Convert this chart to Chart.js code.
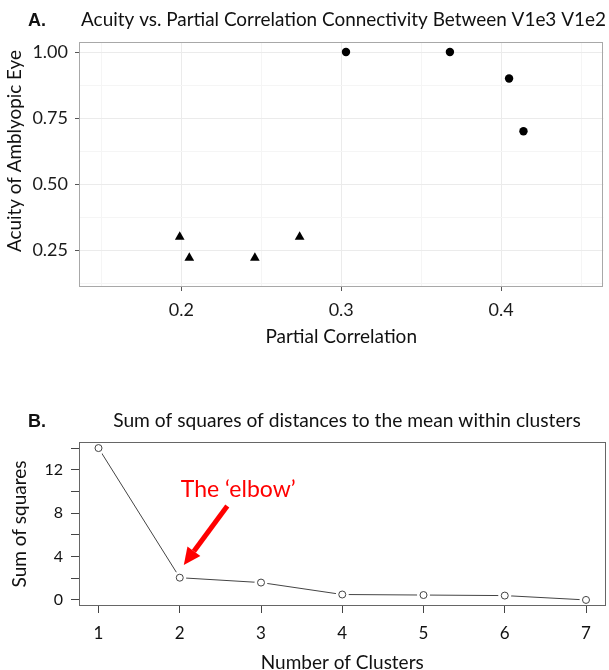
<!DOCTYPE html>
<html>
<head>
<meta charset="utf-8">
<script src="https://cdn.jsdelivr.net/npm/chart.js@4.4.1/dist/chart.umd.min.js"></script>
<style>
  html, body { margin: 0; padding: 0; background: #fff; }
  body { width: 609px; height: 670px; position: relative; overflow: hidden; }
  .panel { position: absolute; left: 0; }
  #boxA { top: 0; width: 609px; height: 360px; }
  #boxB { top: 380px; width: 612px; height: 300px; }
</style>
</head>
<body>
<div class="panel" id="boxA"><canvas id="chartA"></canvas></div>
<div class="panel" id="boxB"><canvas id="chartB"></canvas></div>
<script>
// Panel A: acuity vs partial correlation
const circleX = [0.303, 0.368, 0.405, 0.414];
const circleY = [1.00, 1.00, 0.90, 0.70];
const triangleX = [0.199, 0.205, 0.246, 0.274];
const triangleY = [0.30, 0.22, 0.22, 0.30];
const xTicksA = [0.2, 0.3, 0.4];
const xMinorA = [0.15, 0.25, 0.35, 0.45];
const yTicksA = [0.25, 0.50, 0.75, 1.00];
const yMinorA = [0.125, 0.375, 0.625, 0.875];

// Panel B: elbow plot
const clusters = [1, 2, 3, 4, 5, 6, 7];
const sumSquares = [14.0, 2.05, 1.6, 0.5, 0.45, 0.4, 0.0];
const yTicksB = [0, 2, 4, 6, 8, 10, 12, 14];
const yLabelsB = [0, 4, 8, 12];

Chart.defaults.font.family = "Lato, 'Noto Sans', sans-serif";
Chart.defaults.color = "#111";

const toPoints = (xs, ys) => xs.map((x, i) => ({ x: x, y: ys[i] }));

// shrink/grow a font so the text spans a given width
function fitFont(ctx, text, width, weight, family) {
    ctx.font = `${weight} 20px ${family}`;
    const size = 20 * width / ctx.measureText(text).width;
    return `${weight} ${size.toFixed(2)}px ${family}`;
}

// panel letter, title and (optionally) a free y title
const panelText = {
    id: "panelText",
    afterDraw(chart, args, opts) {
        const ctx = chart.ctx;
        ctx.save();
        ctx.fillStyle = "#111";
        ctx.textBaseline = "alphabetic";
        ctx.textAlign = "left";
        ctx.font = "bold 18px 'Liberation Sans', Arial, sans-serif";
        ctx.fillText(opts.letter, 28, opts.baseline);
        ctx.textAlign = "center";
        ctx.font = fitFont(ctx, opts.title, opts.titleWidth, "", "Lato");
        ctx.fillText(opts.title, opts.titleX, opts.baseline);
        if (opts.yTitle) {
            ctx.translate(opts.yTitleX, opts.yTitleY);
            ctx.rotate(-Math.PI / 2);
            ctx.textBaseline = "middle";
            ctx.font = fitFont(ctx, opts.yTitle, opts.yTitleWidth, "", "Lato");
            ctx.fillText(opts.yTitle, 0, 0);
        }
        ctx.restore();
    }
};

// frame around the plotting area
const frame = {
    id: "frame",
    afterDatasetsDraw(chart, args, opts) {
        const a = chart.chartArea;
        const ctx = chart.ctx;
        ctx.save();
        ctx.strokeStyle = opts.color;
        ctx.lineWidth = 1;
        ctx.strokeRect(Math.round(a.left) + 0.5, Math.round(a.top) + 0.5,
            Math.round(a.right - a.left) - 1, Math.round(a.bottom - a.top) - 1);
        ctx.restore();
    }
};

// red "elbow" label and arrow, placed in data units
const elbowNote = {
    id: "elbowNote",
    afterDatasetsDraw(chart, args, opts) {
        if (!opts.text) return;
        const xs = chart.scales.x, ys = chart.scales.y;
        const ctx = chart.ctx;
        const tx = xs.getPixelForValue(opts.textAt[0]), ty = ys.getPixelForValue(opts.textAt[1]);
        const x0 = xs.getPixelForValue(opts.from[0]), y0 = ys.getPixelForValue(opts.from[1]);
        const x1 = xs.getPixelForValue(opts.to[0]), y1 = ys.getPixelForValue(opts.to[1]);
        ctx.save();
        ctx.fillStyle = opts.color;
        ctx.strokeStyle = opts.color;
        ctx.font = "23px Lato";
        ctx.textAlign = "center";
        ctx.textBaseline = "middle";
        ctx.fillText(opts.text, tx, ty);
        const ang = Math.atan2(y1 - y0, x1 - x0);
        const head = 17, half = 8;
        const bx = x1 - Math.cos(ang) * head, by = y1 - Math.sin(ang) * head;
        ctx.lineWidth = 5;
        ctx.beginPath();
        ctx.moveTo(x0, y0);
        ctx.lineTo(bx, by);
        ctx.stroke();
        ctx.beginPath();
        ctx.moveTo(x1, y1);
        ctx.lineTo(bx + Math.sin(ang) * half, by - Math.cos(ang) * half);
        ctx.lineTo(bx - Math.sin(ang) * half, by + Math.cos(ang) * half);
        ctx.closePath();
        ctx.fill();
        ctx.restore();
    }
};

const majorOr = (list, a, b) => ctx => list.includes(ctx.tick.value) ? a : b;

new Chart(document.getElementById("chartA"), {
    type: "scatter",
    data: {
        datasets: [
            {
                data: toPoints(circleX, circleY),
                pointStyle: "circle",
                pointRadius: 4.2,
                pointBackgroundColor: "#000",
                pointBorderWidth: 0
            },
            {
                data: toPoints(triangleX, triangleY),
                pointStyle: "triangle",
                pointRadius: 5.6,
                pointBackgroundColor: "#000",
                pointBorderWidth: 0
            }
        ]
    },
    options: {
        responsive: true,
        maintainAspectRatio: false,
        animation: false,
        layout: { padding: { top: 42, right: 0, bottom: 0, left: 0 } },
        scales: {
            x: {
                type: "linear",
                min: 0.136,
                max: 0.464,
                afterBuildTicks: s => { s.ticks = xMinorA.concat(xTicksA).sort((a, b) => a - b).map(v => ({ value: v })); },
                afterFit: s => { s.height = 73; },
                border: { display: false },
                grid: {
                    color: majorOr(xTicksA, "#ebebeb", "#f5f5f5"),
                    tickColor: majorOr(xTicksA, "#555", "rgba(0,0,0,0)"),
                    tickLength: 4
                },
                ticks: {
                    autoSkip: false,
                    maxRotation: 0,
                    padding: 8,
                    color: "#1a1a1a",
                    font: { size: 18 },
                    callback: v => xTicksA.includes(v) ? v.toFixed(1) : ""
                },
                title: {
                    display: true,
                    text: "Partial Correlation",
                    color: "#111",
                    font: { size: 19 },
                    padding: { top: 0, bottom: 12 }
                }
            },
            y: {
                min: 0.11,
                max: 1.038,
                afterBuildTicks: s => { s.ticks = yMinorA.concat(yTicksA).sort((a, b) => a - b).map(v => ({ value: v })); },
                afterFit: s => { s.width = 79; },
                border: { display: false },
                grid: {
                    color: majorOr(yTicksA, "#ebebeb", "#f5f5f5"),
                    tickColor: majorOr(yTicksA, "#555", "rgba(0,0,0,0)"),
                    tickLength: 4
                },
                ticks: {
                    autoSkip: false,
                    padding: 7,
                    color: "#1a1a1a",
                    font: { size: 18 },
                    callback: v => yTicksA.includes(v) ? v.toFixed(2) : ""
                }
            }
        },
        plugins: {
            legend: { display: false },
            tooltip: { enabled: false },
            frame: { color: "#a8a8a8" },
            elbowNote: {},
            panelText: {
                letter: "A.",
                title: "Acuity vs. Partial Correlation Connectivity Between V1e3 V1e2",
                titleX: 343.5,
                titleWidth: 525,
                baseline: 26,
                yTitle: "Acuity of Amblyopic Eye",
                yTitleX: 15,
                yTitleY: 151,
                yTitleWidth: 202
            }
        }
    },
    plugins: [frame, panelText, elbowNote]
});

new Chart(document.getElementById("chartB"), {
    type: "scatter",
    data: {
        datasets: [
            {
                // open circles
                data: toPoints(clusters, sumSquares),
                pointRadius: 3.5,
                pointBorderWidth: 1,
                pointBorderColor: "#444",
                pointBackgroundColor: "#fff"
            },
            {
                // white gap round each point, as in type = "b"
                data: toPoints(clusters, sumSquares),
                pointRadius: 6.5,
                pointBorderWidth: 0,
                pointBackgroundColor: "#fff"
            },
            {
                data: toPoints(clusters, sumSquares),
                showLine: true,
                borderColor: "#444",
                borderWidth: 1,
                pointRadius: 0
            }
        ]
    },
    options: {
        responsive: true,
        maintainAspectRatio: false,
        animation: false,
        layout: { padding: { top: 62, right: 1, bottom: 0, left: 0 } },
        scales: {
            x: {
                type: "linear",
                min: 0.76,
                max: 7.24,
                afterBuildTicks: s => { s.ticks = clusters.map(v => ({ value: v })); },
                afterFit: s => { s.height = 74; },
                border: { display: false },
                grid: { drawOnChartArea: false, tickLength: 7, tickColor: "#444" },
                ticks: {
                    autoSkip: false,
                    maxRotation: 0,
                    padding: 10,
                    color: "#111",
                    font: { size: 17 },
                    callback: v => String(v)
                },
                title: {
                    display: true,
                    text: "Number of Clusters",
                    color: "#111",
                    font: { size: 19 },
                    padding: { top: 0, bottom: 6 }
                }
            },
            y: {
                min: -0.56,
                max: 14.56,
                afterBuildTicks: s => { s.ticks = yTicksB.map(v => ({ value: v })); },
                afterFit: s => { s.width = 79; },
                border: { display: false },
                grid: { drawOnChartArea: false, tickLength: 8, tickColor: "#444" },
                ticks: {
                    autoSkip: false,
                    padding: 8,
                    color: "#111",
                    font: { size: 16 },
                    callback: v => yLabelsB.includes(v) ? String(v) : ""
                },
                title: {
                    display: true,
                    text: "Sum of squares",
                    color: "#111",
                    font: { size: 19 },
                    padding: { top: 8, bottom: 0 }
                }
            }
        },
        plugins: {
            legend: { display: false },
            tooltip: { enabled: false },
            frame: { color: "#666" },
            elbowNote: {
                text: "The ‘elbow’",
                color: "#f00",
                textAt: [2.72, 10.2],
                from: [2.585, 8.66],
                to: [2.05, 3.22]
            },
            panelText: {
                letter: "B.",
                title: "Sum of squares of distances to the mean within clusters",
                titleX: 347,
                titleWidth: 468,
                baseline: 47
            }
        }
    },
    plugins: [frame, panelText, elbowNote]
});
</script>
</body>
</html>
